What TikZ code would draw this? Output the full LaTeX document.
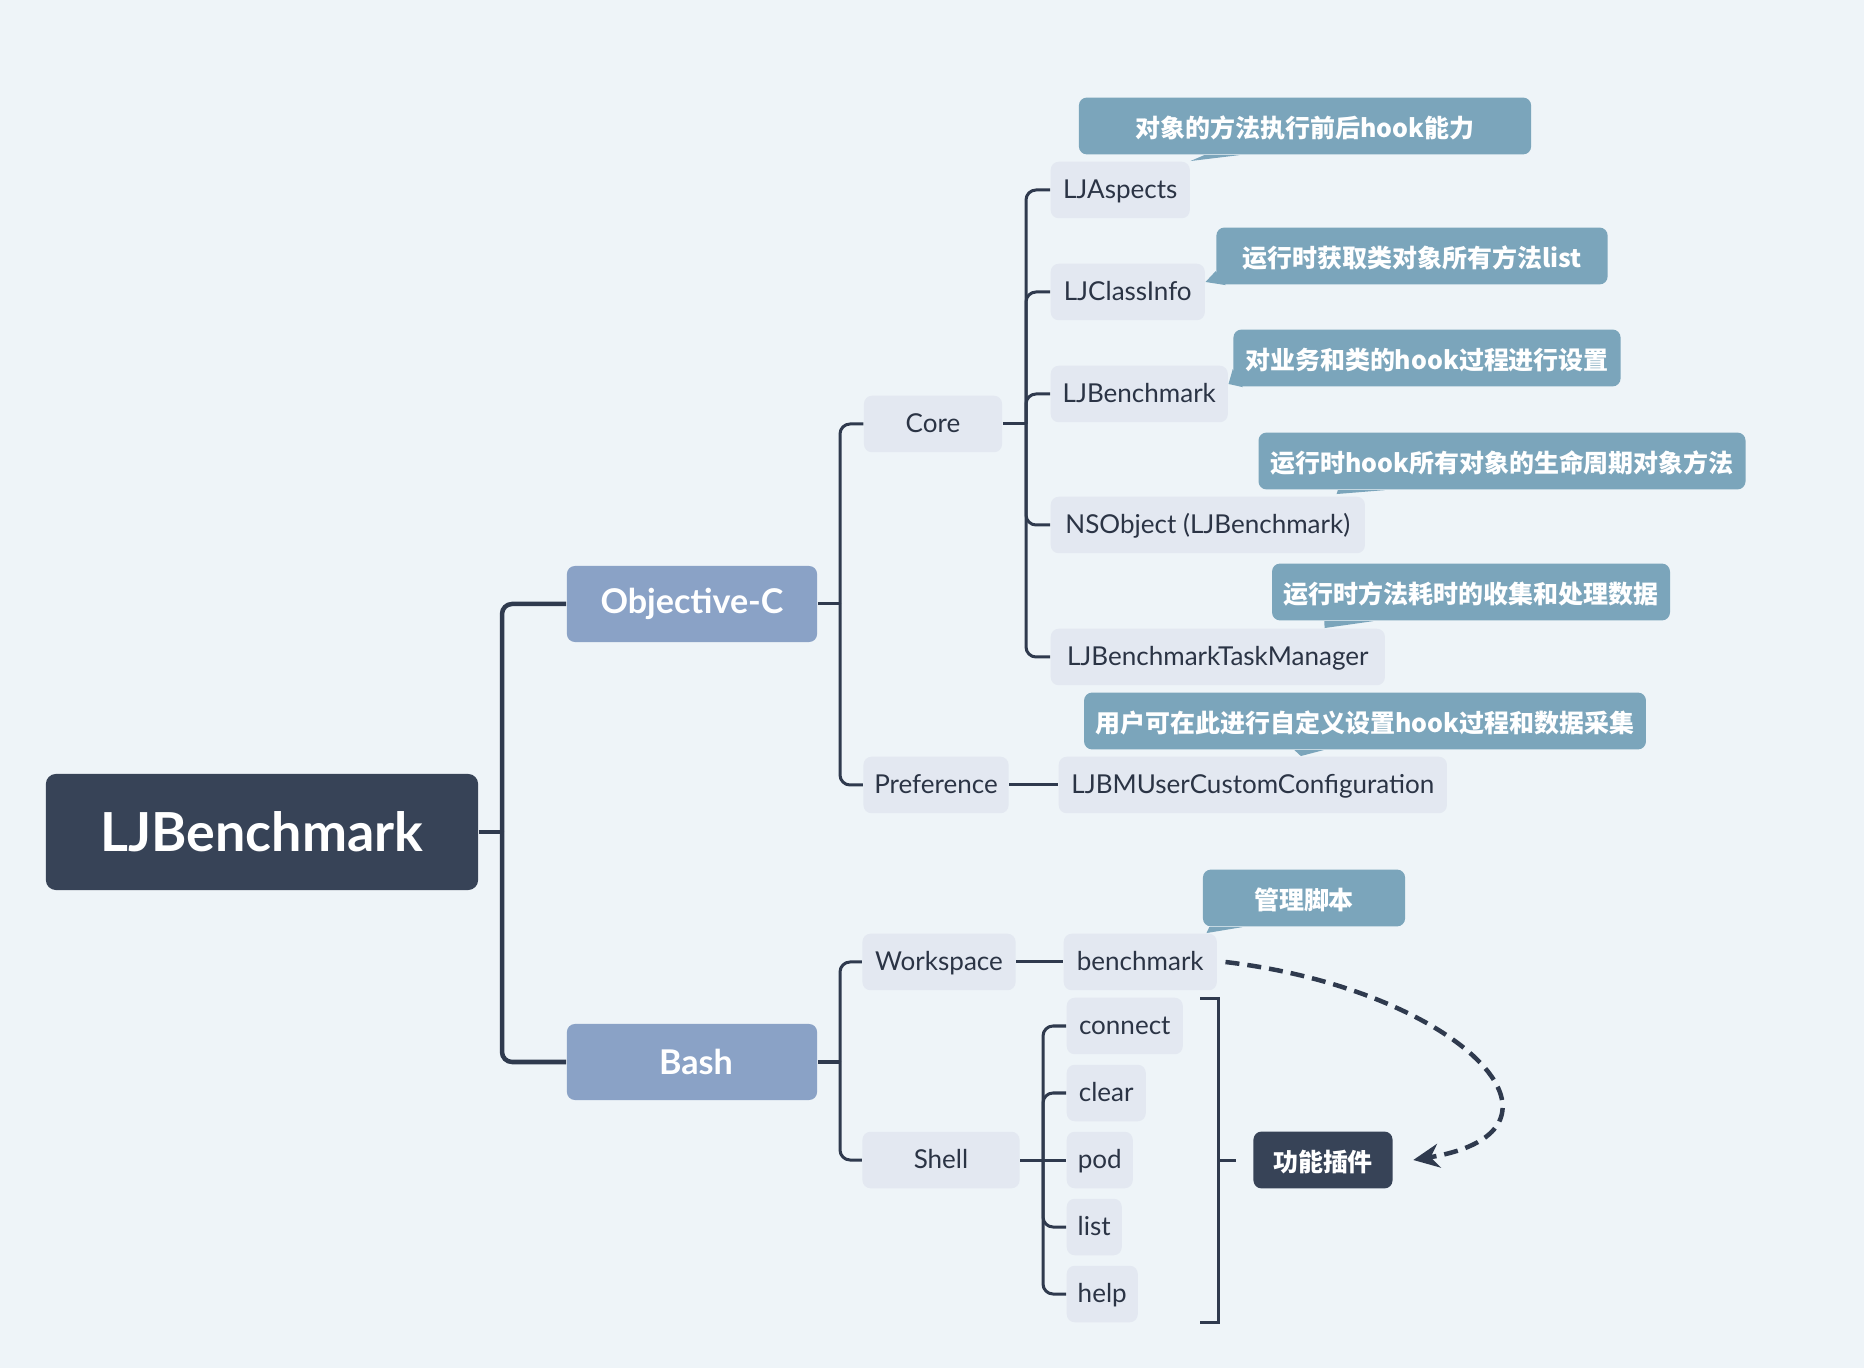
\documentclass[tikz,border=0pt]{standalone}
\usepackage{fontspec}
\setmainfont{Lato}
\newfontfamily\cjk{Noto Sans CJK SC}
\usetikzlibrary{arrows.meta,positioning,calc}
\definecolor{bgcol}{HTML}{EEF4F8}
\definecolor{rootcol}{HTML}{374357}
\definecolor{topiccol}{HTML}{8AA2C6}
\definecolor{leafcol}{HTML}{E3E8F1}
\definecolor{notecol}{HTML}{7BA5BB}
\definecolor{linecol}{HTML}{2F3A4E}
\definecolor{textcol}{HTML}{2B3445}
\tikzset{>=latex,
	rootnode/.style={fill=rootcol, text=white, rounded corners=0.1cm, minimum width=4.32cm, minimum height=1.16cm, font=\fontsize{15.3}{18}\selectfont\bfseries},
	topic/.style={fill=topiccol, text=white, rounded corners=0.08cm, minimum width=2.5cm, minimum height=0.76cm, font=\fontsize{9.7}{11}\selectfont\bfseries},
	leaf/.style={fill=leafcol, text=textcol, rounded corners=0.08cm, minimum height=0.51cm, inner xsep=0.08cm, text height=0.72em, text depth=0.22em, font=\fontsize{7.4}{9}\selectfont},
	note/.style={fill=notecol, text=white, rounded corners=0.08cm, minimum height=0.51cm, text height=0.8em, text depth=0.15em, font=\cjk\fontsize{7.1}{9}\selectfont\bfseries},
	conn/.style={draw=linecol, line width=0.03cm, rounded corners=0.1cm},
}
\begin{document}
\begin{tikzpicture}[x=0.01cm, y=-0.01cm]
		\fill[bgcol] (0,0) rectangle (1864,1368);
		\node[rootnode] (root) at (262,832) {LJBenchmark};
		\node[topic] (objc) at (692,604) {Objective-C};
		\node[topic] (bash) at (692,1062) {\hspace{0.08cm}Bash};
		
		\node[leaf, minimum width=1.38cm] (core) at (933,424) {Core};
		\node[leaf, minimum width=1.45cm] (pref) at (936,785) {Preference};
		\node[leaf, minimum width=1.53cm] (workspace) at (939,962) {Workspace};
		\node[leaf, minimum width=1.57cm] (shell) at (941,1160) {Shell};
		
		\node[leaf, minimum width=1.39cm, anchor=west] (aspects) at (1050,190) {LJAspects};
		\node[leaf, minimum width=1.54cm, anchor=west] (classinfo) at (1050,292) {LJClassInfo};
		\node[leaf, minimum width=1.77cm, anchor=west] (bench) at (1050,394) {LJBenchmark};
		\node[leaf, minimum width=3.14cm, anchor=west] (nsobj) at (1050,525) {NSObject (LJBenchmark)};
		\node[leaf, minimum width=3.34cm, anchor=west] (task) at (1050,657) {LJBenchmarkTaskManager};
		\node[leaf, minimum width=3.88cm, anchor=west] (ljbm) at (1058,785) {LJBMUserCustomConfiguration};
		\node[leaf, minimum width=1.53cm, anchor=west] (benchmark) at (1063,962) {benchmark};
		
		\node[leaf, minimum width=1.16cm, anchor=west] (connect) at (1066,1026) {connect};
		\node[leaf, minimum width=0.79cm, anchor=west] (clear) at (1066,1093) {clear};
		\node[leaf, minimum width=0.66cm, anchor=west] (pod) at (1066,1160) {pod};
		\node[leaf, minimum width=0.55cm, anchor=west] (list) at (1066,1227) {list};
		\node[leaf, minimum width=0.71cm, anchor=west] (help) at (1066,1294) {help};
		\node[note, fill=rootcol, minimum width=1.39cm] (plugin) at (1323,1160) {功能插件};
		
		\node[note, minimum width=4.52cm] (n1) at (1305,126) {对象的方法执行前后hook能力};
		\node[note, minimum width=3.91cm] (n2) at (1412,256) {运行时获取类对象所有方法list};
		\node[note, minimum width=3.75cm] (n3) at (1427,358) {对业务和类的hook过程进行设置};
		\node[note, minimum width=4.75cm] (n4) at (1502,461) {运行时hook所有对象的生命周期对象方法};
		\node[note, minimum width=3.89cm] (n5) at (1471,592) {运行时方法耗时的收集和处理数据};
		\node[note, minimum width=5.49cm] (n6) at (1365,721) {用户可在此进行自定义设置hook过程和数据采集};
		\node[note, minimum width=2.02cm] (n7) at (1304,898) {管理脚本};
		
		\fill[notecol] ([xshift=1.26cm]n1.south west) -- (aspects.north east) -- ([xshift=1.61cm]n1.south west) -- cycle;
		\fill[notecol] ([yshift=0.14cm]n2.south west) -- ([yshift=0.1cm]classinfo.east) -- ([xshift=0.1cm]n2.south west) -- cycle;
		\fill[notecol] ([yshift=0.18cm]n3.south west) -- ([yshift=0.1cm]bench.east) -- ([xshift=0.1cm]n3.south west) -- cycle;
		\fill[notecol] ([xshift=0.8cm]n4.south west) -- ([xshift=-0.29cm,yshift=0.02cm]nsobj.north east) -- ([xshift=1.27cm]n4.south west) -- cycle;
		\fill[notecol] ([xshift=0.53cm]n5.south west) -- ([xshift=-0.61cm]task.north east) -- ([xshift=1.02cm]n5.south west) -- cycle;
		\fill[notecol] ([xshift=2.11cm]n6.south west) -- ([xshift=0.48cm]ljbm.north) -- ([xshift=2.4cm]n6.south west) -- cycle;
		\fill[notecol] ([xshift=0.07cm]n7.south west) -- ([xshift=-0.11cm]benchmark.north east) -- ([xshift=0.4cm]n7.south west) -- cycle;
		
		\coordinate (rootj) at (502,832);
		\coordinate (objcj) at (840,604);
		\coordinate (bashj) at (840,1062);
		\coordinate (corej) at (1026,424);
		\coordinate (shellj) at (1043,1160);
		
		\draw[conn, line width=0.045cm] (root.east) -- (rootj);
		\draw[conn, line width=0.045cm] (rootj) |- (objc.west);
		\draw[conn, line width=0.045cm] (rootj) |- (bash.west);
		
		\draw[conn] (objc.east) -- (objcj);
		\draw[conn] (objcj) |- (core.west);
		\draw[conn] (objcj) |- (pref.west);
		\draw[conn] (bash.east) -- (bashj);
		\draw[conn] (bashj) |- (workspace.west);
		\draw[conn] (bashj) |- (shell.west);
		
		\draw[conn] (core.east) -- (corej);
		\draw[conn] (corej) |- (aspects.west);
		\draw[conn] (corej) |- (classinfo.west);
		\draw[conn] (corej) |- (bench.west);
		\draw[conn] (corej) |- (nsobj.west);
		\draw[conn] (corej) |- (task.west);
		\draw[conn] (pref.east) -- (ljbm.west);
		\draw[conn] (workspace.east) -- (benchmark.west);
		
		\draw[conn] (shell.east) -- (pod.west);
		\draw[conn] (shellj) |- (connect.west);
		\draw[conn] (shellj) |- (clear.west);
		\draw[conn] (shellj) |- (list.west);
		\draw[conn] (shellj) |- (help.west);
		
		\coordinate (brtop) at (1218,999);
		\coordinate (brbot) at (1218,1322);
		\coordinate (brmid) at (1218,1160);
		\draw[conn, rounded corners=0] ([xshift=-0.18cm]brtop) -- (brtop) -- (brbot) -- ([xshift=-0.18cm]brbot);
		\draw[conn] (brmid) -- ([xshift=-0.17cm]plugin.west);
		
		\draw[linecol, line width=0.045cm, dash pattern=on 0.14cm off 0.08cm, -{Stealth[length=0.26cm,width=0.24cm]}] ([xshift=0.08cm]benchmark.east) .. controls (1460,990) and (1595,1130) .. ([xshift=0.2cm]plugin.east);
	\end{tikzpicture}
\end{document}
